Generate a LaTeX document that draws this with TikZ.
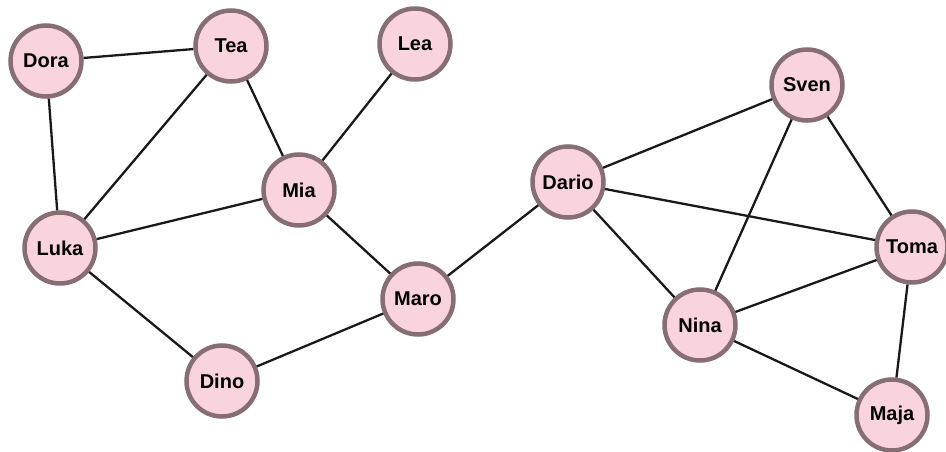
\documentclass[tikz,border=0pt]{standalone}
\usepackage{fontspec}
\setmainfont{Liberation Sans}
\usetikzlibrary{positioning}
\definecolor{nodepink}{RGB}{250,212,220}
\definecolor{nodeborder}{RGB}{135,110,116}
\tikzstyle{person}=[circle,fill=nodepink,draw=nodeborder,line width=4.5pt,minimum size=71pt,inner sep=0pt,font=\fontsize{20}{24}\selectfont\bfseries]
\tikzstyle{friendedge} = [draw,line width=2.3pt,black!90]
\begin{document}
\begin{tikzpicture}[x=1pt,y=-1pt]
    \useasboundingbox (0,0) rectangle (946,452);
    % First we draw the people
    \foreach \pos/\name/\label in {{(46,61)/Dora/Dora}, {(231,46)/Tea/Tea}, {(415,44)/Lea/Lea},
        {(299,190)/Mia/Mia}, {(60,248)/Luka/Luka}, {(222,381)/Dino/Dino}, {(418,299)/Maro/Maro},
        {(568,182)/Dario/Dario}, {(807,85)/Sven/Sven}, {(912,247)/Toma/Toma},
        {(700,325)/Nina/Nina}, {(892,415)/Maja/Maja}}
        \node[person] (\name) at \pos {\label};

    % Connect people with edges
    \foreach \source/ \dest in {Dora/Tea, Dora/Luka, Tea/Luka, Tea/Mia, Lea/Mia, Mia/Luka,
        Mia/Maro, Luka/Dino, Dino/Maro, Maro/Dario, Dario/Sven, Dario/Toma, Dario/Nina,
        Sven/Nina, Sven/Toma, Nina/Toma, Nina/Maja, Toma/Maja}
          \path[friendedge] (\source) -- (\dest);
\end{tikzpicture}
\end{document}
